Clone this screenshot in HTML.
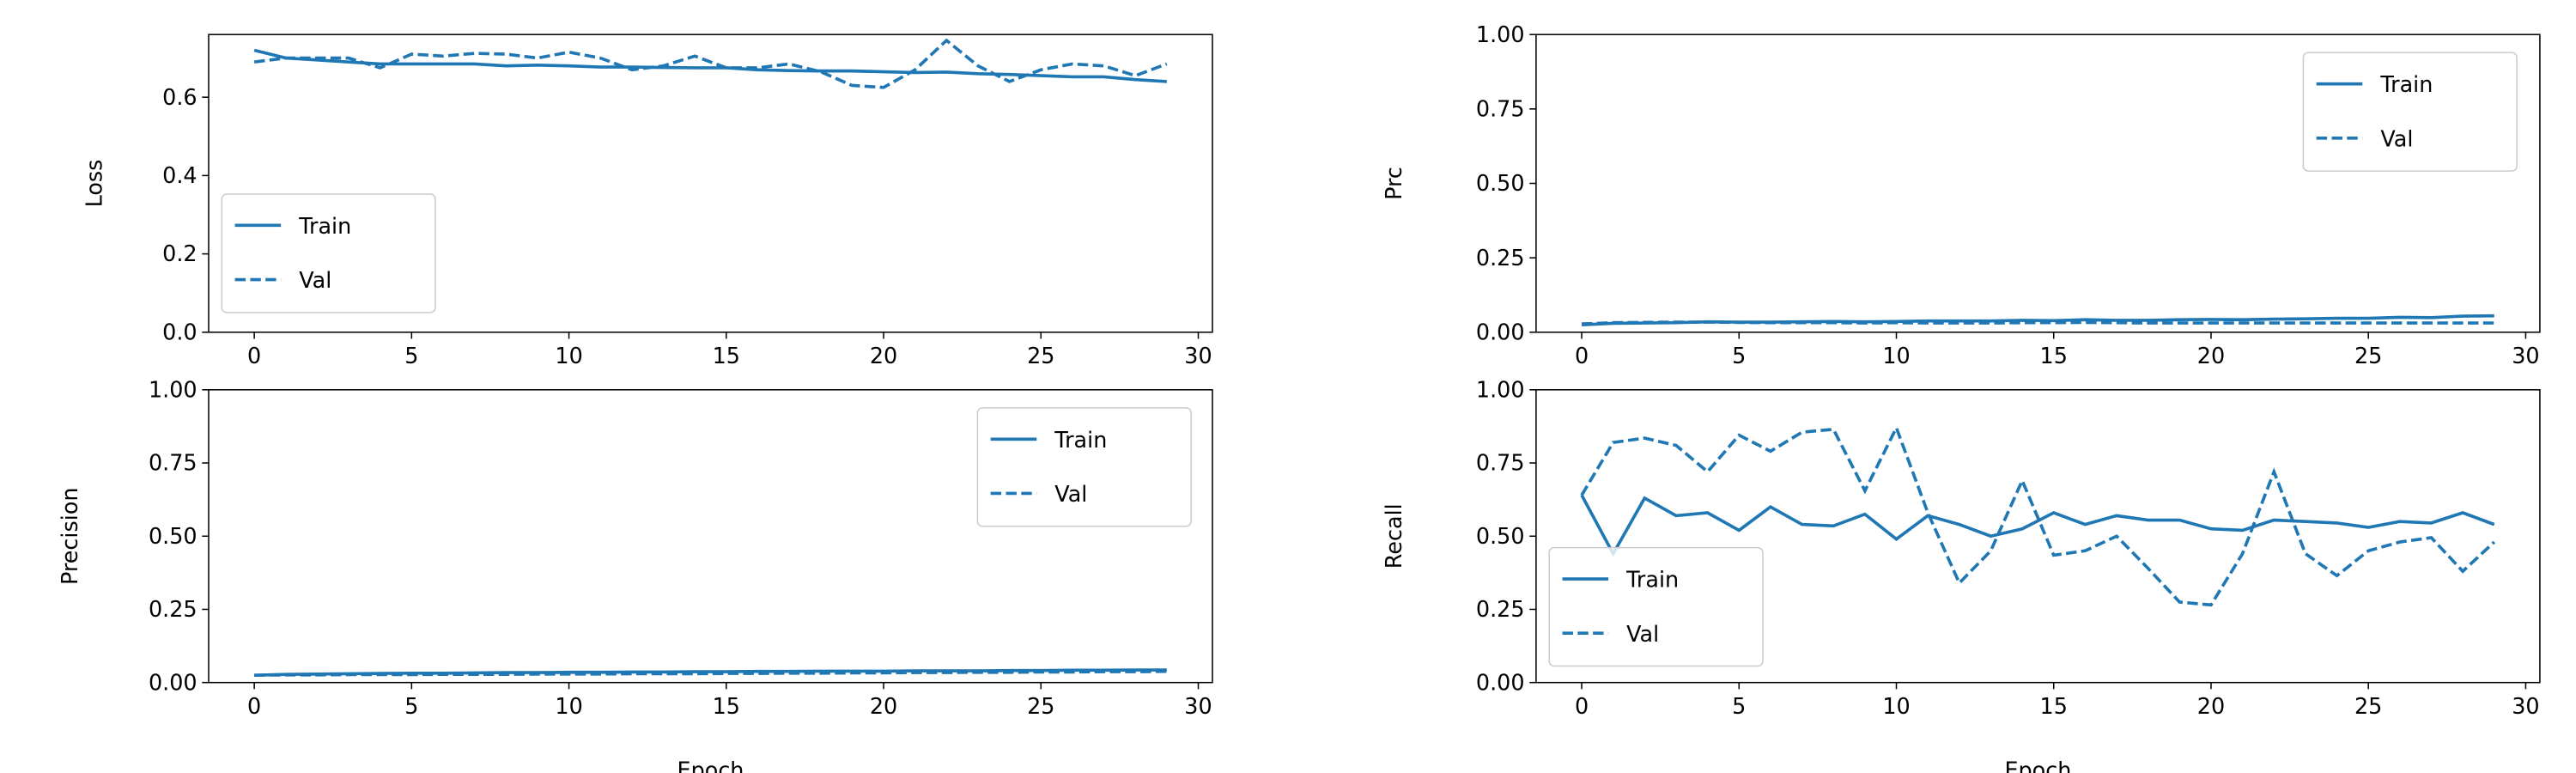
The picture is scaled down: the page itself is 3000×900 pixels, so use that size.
<!DOCTYPE html>
<html><head><meta charset="utf-8"><style>
html,body{margin:0;padding:0;background:#fff;}
svg{display:block;}
text{font-family:"DejaVu Sans","Liberation Sans",sans-serif;fill:#000;}
</style></head><body>
<svg id="chart" width="3000" height="900" viewBox="0 0 1568 470" preserveAspectRatio="none" xmlns="http://www.w3.org/2000/svg"></svg>
<script>
const epochs = Array.from({length:30},(_,i)=>i);
const lossTrain = [0.72,0.70,0.695,0.69,0.685,0.685,0.685,0.685,0.68,0.682,0.68,0.677,0.677,0.676,0.675,0.675,0.67,0.668,0.667,0.667,0.665,0.663,0.664,0.66,0.658,0.655,0.652,0.652,0.645,0.64];
const lossVal = [0.69,0.70,0.70,0.70,0.675,0.71,0.705,0.712,0.71,0.70,0.715,0.70,0.67,0.68,0.705,0.675,0.675,0.685,0.665,0.63,0.625,0.67,0.745,0.68,0.64,0.67,0.685,0.68,0.655,0.685];
const prcTrain = [0.025,0.03,0.031,0.032,0.035,0.034,0.034,0.035,0.036,0.035,0.036,0.038,0.038,0.038,0.04,0.039,0.042,0.04,0.04,0.042,0.043,0.042,0.044,0.045,0.047,0.047,0.05,0.049,0.054,0.055];
const prcVal = [0.028,0.032,0.033,0.034,0.034,0.033,0.032,0.032,0.032,0.031,0.032,0.031,0.031,0.031,0.032,0.032,0.033,0.032,0.031,0.031,0.031,0.031,0.031,0.031,0.031,0.031,0.031,0.031,0.031,0.031];
const precTrain = [0.025,0.028,0.029,0.03,0.031,0.032,0.032,0.033,0.034,0.034,0.035,0.035,0.036,0.036,0.037,0.037,0.038,0.038,0.039,0.039,0.039,0.04,0.04,0.04,0.041,0.041,0.042,0.042,0.043,0.043];
const precVal = [0.025,0.026,0.026,0.027,0.027,0.027,0.028,0.028,0.028,0.029,0.029,0.029,0.03,0.03,0.03,0.031,0.031,0.032,0.032,0.033,0.033,0.034,0.034,0.035,0.035,0.036,0.036,0.037,0.037,0.038];
const recallTrain = [0.64,0.44,0.63,0.57,0.58,0.52,0.60,0.54,0.535,0.575,0.49,0.57,0.54,0.50,0.525,0.58,0.54,0.57,0.555,0.555,0.525,0.52,0.555,0.55,0.545,0.53,0.55,0.545,0.58,0.54];
const recallVal = [0.64,0.82,0.835,0.81,0.72,0.845,0.79,0.855,0.865,0.655,0.87,0.58,0.34,0.45,0.69,0.435,0.45,0.50,0.39,0.275,0.265,0.44,0.72,0.44,0.365,0.45,0.48,0.495,0.38,0.48];
const xTicks = [0,5,10,15,20,25,30];
const lossTicks = [0.0,0.2,0.4,0.6];
const unitTicks = [0.00,0.25,0.50,0.75,1.00];

const NS="http://www.w3.org/2000/svg";
const svg=document.getElementById('chart');
const C='#1f77b4';
const LW=1.9;
function mk(tag,attrs,parent){const e=document.createElementNS(NS,tag);for(const k in attrs)e.setAttribute(k,attrs[k]);(parent||svg).appendChild(e);return e;}

function panel(cfg){
  const g=mk('g',{});
  
  
  const L=cfg.x0,R=cfg.x1,T=cfg.y0,B=cfg.y1;
  const xs=v=>L+(v-(-1.45))/(31.9)*(R-L);
  const ys=v=>B-(v-cfg.ymin)/(cfg.ymax-cfg.ymin)*(B-T);
  xTicks.forEach(t=>{
    mk('line',{x1:xs(t),x2:xs(t),y1:B,y2:B+4,stroke:'#000','stroke-width':0.8},g);
    const tx=mk('text',{x:xs(t),y:B+19,'font-size':13.3,'text-anchor':'middle'},g);
    tx.textContent=t;
    
    
  });
  cfg.yt.forEach(t=>{
    mk('line',{x1:L-4,x2:L,y1:ys(t),y2:ys(t),stroke:'#000','stroke-width':0.8},g);
    const tx=mk('text',{x:L-7,y:ys(t)+4.5,'font-size':13.3,'text-anchor':'end'},g);
    tx.textContent=t.toFixed(cfg.dec);
    
    
  });
  const yl=mk('text',{x:0,y:0,'font-size':13.3,'text-anchor':'middle',transform:`translate(${cfg.ylx},${(T+B)/2}) rotate(-90)`},g);
  yl.textContent=cfg.ylabel;
  
  
  if(cfg.xlabel){
    const xl=mk('text',{x:(L+R)/2,y:B+58,'font-size':13.3,'text-anchor':'middle'},g);
    xl.textContent=cfg.xlabel;
    
    
  }
  const clipId='clip-'+cfg.name;
  const cp=mk('clipPath',{id:clipId},g);mk('rect',{x:L,y:T,width:R-L,height:B-T},cp);
  function series(vals,dash,nm){
    const d=vals.map((v,i)=>(i?'L':'M')+xs(epochs[i]).toFixed(2)+','+ys(v).toFixed(2)).join('');
    const p=mk('path',{d:d,fill:'none',stroke:C,'stroke-width':LW,'clip-path':`url(#${clipId})`},g);
    if(dash)p.setAttribute('stroke-dasharray','6.5,2.8');
    
    
  }
  series(cfg.train,false,'train');
  series(cfg.val,true,'val');
  mk('rect',{x:L,y:T,width:R-L,height:B-T,fill:'none',stroke:'#000','stroke-width':0.8},g);
  const lg=mk('g',{},g);
  
  
  const lx=cfg.lx,ly=cfg.ly;
  mk('rect',{x:lx,y:ly,width:130,height:72,rx:3,fill:'#fff','fill-opacity':0.8,stroke:'#ccc','stroke-width':0.8},lg);
  mk('line',{x1:lx+8,x2:lx+36,y1:ly+19,y2:ly+19,stroke:C,'stroke-width':LW},lg);
  mk('line',{x1:lx+8,x2:lx+36,y1:ly+52,y2:ly+52,stroke:C,'stroke-width':LW,'stroke-dasharray':'6.5,2.8'},lg);
  const t1=mk('text',{x:lx+47,y:ly+24,'font-size':13.3},lg);t1.textContent='Train';
  
  
  const t2=mk('text',{x:lx+47,y:ly+57,'font-size':13.3},lg);t2.textContent='Val';
  
  
}

panel({name:'loss',x0:127,x1:738,y0:21,y1:202,ymin:0,ymax:0.76,yt:lossTicks,dec:1,ylabel:'Loss',ylx:62,train:lossTrain,val:lossVal,lx:135,ly:118});
panel({name:'prc',x0:935,x1:1546,y0:21,y1:202,ymin:0,ymax:1,yt:unitTicks,dec:2,ylabel:'Prc',ylx:853,train:prcTrain,val:prcVal,lx:1402,ly:32});
panel({name:'precision',x0:127,x1:738,y0:237,y1:415,ymin:0,ymax:1,yt:unitTicks,dec:2,ylabel:'Precision',ylx:47,train:precTrain,val:precVal,lx:595,ly:248,xlabel:'Epoch'});
panel({name:'recall',x0:935,x1:1546,y0:237,y1:415,ymin:0,ymax:1,yt:unitTicks,dec:2,ylabel:'Recall',ylx:853,train:recallTrain,val:recallVal,lx:943,ly:333,xlabel:'Epoch'});
</script>
</body></html>
